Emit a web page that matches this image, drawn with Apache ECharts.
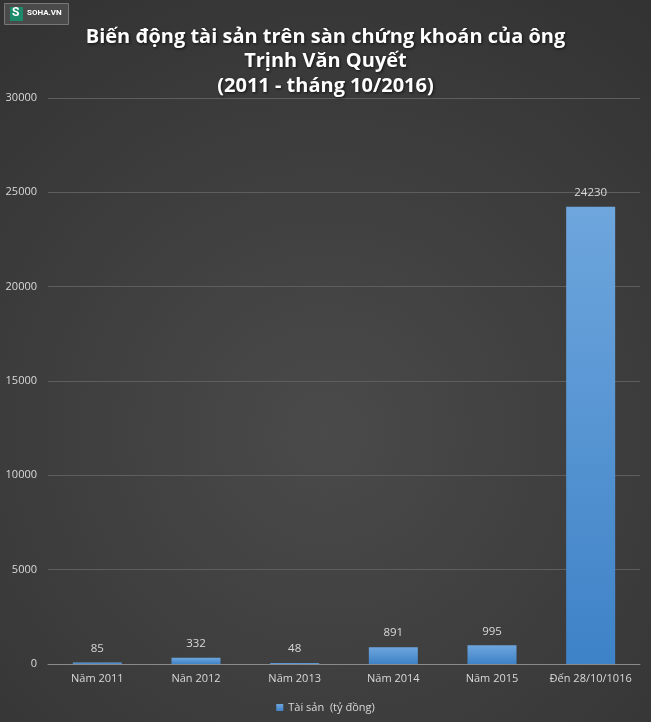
<!DOCTYPE html>
<html><head><meta charset="utf-8">
<script src="https://cdn.jsdelivr.net/npm/echarts@6/dist/echarts.min.js"></script>
<style>html,body{margin:0;padding:0;background:#3c3c3c}#c{width:651px;height:722px}</style>
</head><body><div id="c"></div>
<script>
const categories = ['Năm 2011','Năn 2012','Năm 2013','Năm 2014','Năm 2015','Đến 28/10/1016'];
const values = [85, 332, 48, 891, 995, 24230];
const seriesName = 'Tài sản  (tỷ đồng)';
const titleText = 'Biến động tài sản trên sàn chứng khoán của ông\nTrịnh Văn Quyết\n(2011 - tháng 10/2016)';

const chart = echarts.init(document.getElementById('c'), null, {renderer:'canvas'});
chart.setOption({
  backgroundColor: {type:'radial', x:0.5, y:0.6, r:0.8, colorStops:[{offset:0,color:'#4a4a4a'},{offset:1,color:'#333333'}]},
  title: {
    text: titleText, left: 'center', top: 20,
    textStyle: {color:'#ffffff', fontFamily:'Open Sans', fontWeight:'bold', fontSize:20, lineHeight:24.5,
      textShadowColor:'rgba(0,0,0,0.7)', textShadowBlur:3, textShadowOffsetX:1, textShadowOffsetY:1}
  },
  graphic: [
    {type:'rect', left:4, top:3, shape:{width:64, height:21}, style:{fill:'#4a4a4a', stroke:'#777', lineWidth:1}},
    {type:'rect', left:10, top:7, shape:{width:13, height:14}, style:{fill:'#1a8a6a'}},
    {type:'text', left:12, top:7, style:{text:'S', fill:'#fff', font:'bold 12px Roboto'}},
    {type:'text', left:27, top:9, style:{text:'SOHA.VN', fill:'#fff', font:'bold 8px Roboto'}}
  ],
  legend: {
    bottom: 4, left:'center', itemWidth:7, itemHeight:7, icon:'rect',
    textStyle:{color:'#d9d9d9', fontFamily:'Open Sans', fontSize:11}, itemGap:4,
    data:[seriesName]
  },
  grid: {left:48, right:11, top:98, bottom:58},
  xAxis: {
    type:'category', data:categories,
    axisLine:{lineStyle:{color:'#8a8a8a'}}, axisTick:{show:false},
    axisLabel:{color:'#d9d9d9', fontFamily:'Open Sans', fontSize:11, margin:9, interval:0}
  },
  yAxis: {
    type:'value', min:0, max:30000, interval:5000,
    axisLine:{show:false}, axisTick:{show:false},
    splitLine:{lineStyle:{color:'#5e5e5e'}},
    axisLabel:{color:'#d9d9d9', fontFamily:'Open Sans', fontSize:11, margin:11, formatter: v => String(v)}
  },
  series: [{
    name: seriesName, type:'bar', data: values, barWidth:49,
    itemStyle:{color:{type:'linear',x:0,y:0,x2:0,y2:1,colorStops:[{offset:0,color:'#6ea6dd'},{offset:1,color:'#3e82c7'}]}},
    label:{show:true, position:'top', distance:8, color:'#d9d9d9', fontFamily:'Open Sans', fontSize:11.5}
  }]
});
</script></body></html>
